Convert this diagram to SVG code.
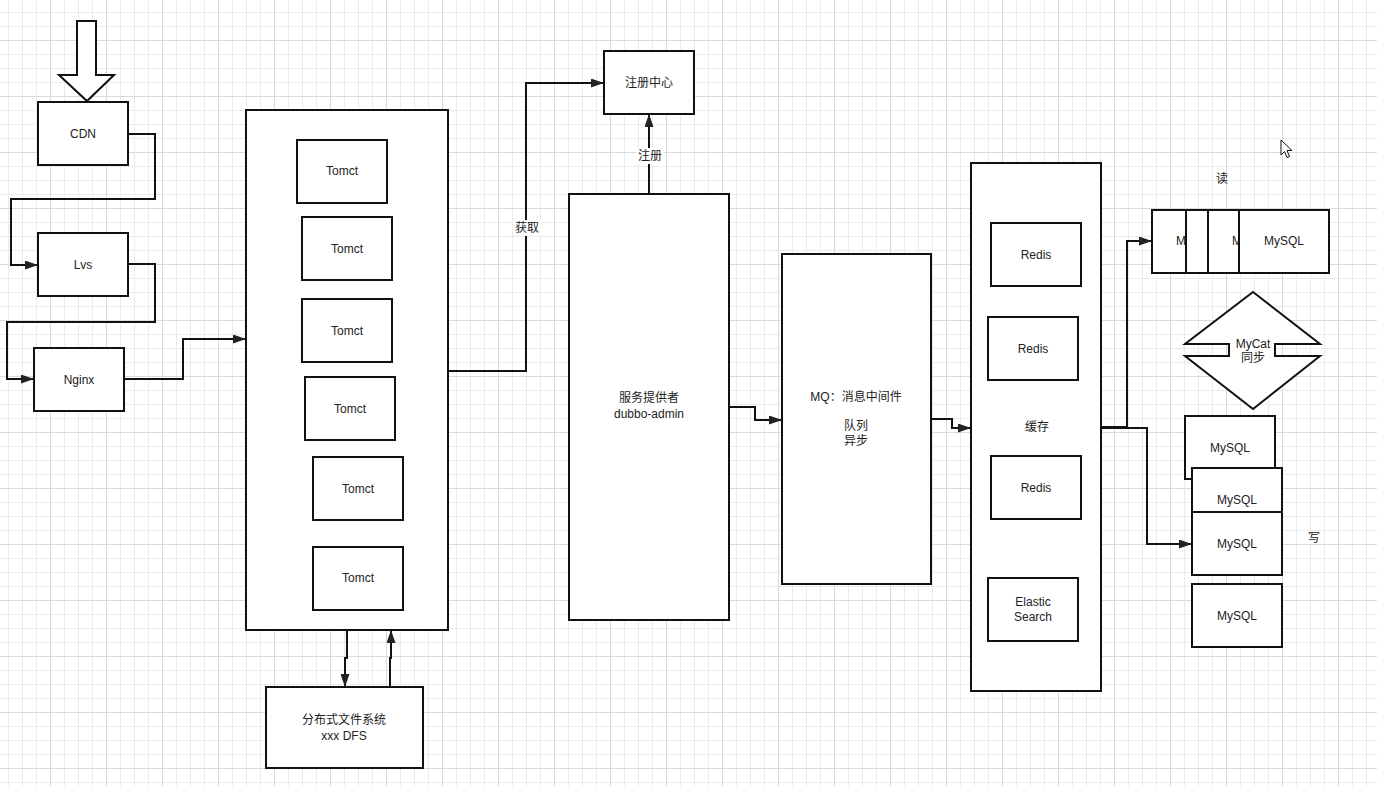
<svg xmlns="http://www.w3.org/2000/svg" width="1377" height="786" viewBox="0 0 1377 786">
<style>
.box{fill:#fff;stroke:#111;stroke-width:2}
.t{font-family:"Liberation Sans","Noto Sans CJK SC",sans-serif;font-size:12px;fill:#222;text-anchor:middle;dominant-baseline:central}
.s{text-anchor:start}
.c{fill:none;stroke:#111;stroke-width:2}
.lbl{fill:#fff}
</style>
<defs>
<pattern id="minor" width="14" height="14" x="8" y="12" patternUnits="userSpaceOnUse">
<rect width="14" height="1" fill="#ebebeb"/><rect width="1" height="14" fill="#ebebeb"/>
</pattern>
<pattern id="major" width="56" height="56" x="50" y="40" patternUnits="userSpaceOnUse">
<rect width="56" height="1" fill="#dadada"/><rect width="1" height="56" fill="#dadada"/>
</pattern>
<marker id="arr" markerWidth="13" markerHeight="9" refX="13" refY="4.5" orient="auto" markerUnits="userSpaceOnUse">
<path d="M0 0L13 4.5L0 9Z" fill="#222"/>
</marker>
</defs>
<rect width="1377" height="786" fill="#fff"/>
<rect width="1377" height="786" fill="url(#minor)"/>
<rect width="1377" height="786" fill="url(#major)"/>

<g id="entry-arrow">
<polygon class="box" points="77,21 96,21 96,75 114,75 87,101 59,75 77,75"/>
</g>

<g id="connectors">
<path class="c" d="M128 134H155V199H11V265H38" marker-end="url(#arr)"/>
<path class="c" d="M128 264H155V322H7V379H34" marker-end="url(#arr)"/>
<path class="c" d="M124 379H183V339H246" marker-end="url(#arr)"/>
<path class="c" d="M448 371H526V83H604" marker-end="url(#arr)"/>
<path class="c" d="M347 630V658H345V687" marker-end="url(#arr)"/>
<path class="c" d="M390 687V658H391V630" marker-end="url(#arr)"/>
<path class="c" d="M649 194V114" marker-end="url(#arr)"/>
<path class="c" d="M729 407H755V420H782" marker-end="url(#arr)"/>
<path class="c" d="M931 419H952V428H971" marker-end="url(#arr)"/>
<path class="c" d="M1101 427H1127V241H1152" marker-end="url(#arr)"/>
<path class="c" d="M1101 428H1147V544H1192" marker-end="url(#arr)"/>
<rect class="lbl" x="513" y="220" width="28" height="16"/>
<text class="t" x="527" y="228">获取</text>
<rect class="lbl" x="636" y="148" width="28" height="16"/>
<text class="t" x="650" y="156">注册</text>
</g>

<g id="cdn"><rect class="box" x="38" y="102" width="90" height="63"/><text class="t" x="83" y="134">CDN</text></g>
<g id="lvs"><rect class="box" x="38" y="233" width="90" height="63"/><text class="t" x="83" y="265">Lvs</text></g>
<g id="nginx"><rect class="box" x="34" y="348" width="90" height="63"/><text class="t" x="79" y="380">Nginx</text></g>

<g id="tomcat-cluster">
<rect class="box" x="246" y="110" width="202" height="520"/>
<g id="tomcat1"><rect class="box" x="297" y="140" width="90" height="63"/><text class="t" x="342" y="171">Tomct</text></g>
<g id="tomcat2"><rect class="box" x="302" y="217" width="90" height="63"/><text class="t" x="347" y="249">Tomct</text></g>
<g id="tomcat3"><rect class="box" x="302" y="299" width="90" height="63"/><text class="t" x="347" y="331">Tomct</text></g>
<g id="tomcat4"><rect class="box" x="305" y="377" width="90" height="63"/><text class="t" x="350" y="409">Tomct</text></g>
<g id="tomcat5"><rect class="box" x="313" y="457" width="90" height="63"/><text class="t" x="358" y="489">Tomct</text></g>
<g id="tomcat6"><rect class="box" x="313" y="547" width="90" height="63"/><text class="t" x="358" y="578">Tomct</text></g>
</g>

<g id="dfs"><rect class="box" x="266" y="687" width="157" height="81"/><text class="t" x="344" y="720">分布式文件系统</text><text class="t" x="344" y="736">xxx DFS</text></g>

<g id="registry"><rect class="box" x="604" y="51" width="90" height="63"/><text class="t" x="649" y="83">注册中心</text></g>

<g id="provider"><rect class="box" x="569" y="194" width="160" height="426"/><text class="t" x="649" y="398">服务提供者</text><text class="t" x="649" y="414">dubbo-admin</text></g>

<g id="mq"><rect class="box" x="782" y="254" width="149" height="330"/><text class="t" x="856" y="397">MQ：消息中间件</text><text class="t" x="856" y="426">队列</text><text class="t" x="856" y="441">异步</text></g>

<g id="cache">
<rect class="box" x="971" y="163" width="130" height="528"/>
<text class="t" x="1037" y="427">缓存</text>
<g id="redis1"><rect class="box" x="991" y="223" width="90" height="63"/><text class="t" x="1036" y="255">Redis</text></g>
<g id="redis2"><rect class="box" x="988" y="317" width="90" height="63"/><text class="t" x="1033" y="349">Redis</text></g>
<g id="redis3"><rect class="box" x="991" y="456" width="90" height="63"/><text class="t" x="1036" y="488">Redis</text></g>
<g id="es"><rect class="box" x="988" y="578" width="90" height="63"/><text class="t" x="1033" y="602">Elastic</text><text class="t" x="1033" y="617">Search</text></g>
</g>

<g id="read-label"><text class="t" x="1222" y="179">读</text></g>
<g id="read-mysql">
<g id="rm1"><rect class="box" x="1152" y="210" width="90" height="63"/><text class="t s" x="1176" y="241">M</text></g>
<g id="rm2"><rect class="box" x="1186" y="210" width="90" height="63"/></g>
<g id="rm3"><rect class="box" x="1208" y="210" width="90" height="63"/><text class="t s" x="1232" y="241">M</text></g>
<g id="rm4"><rect class="box" x="1239" y="210" width="90" height="63"/><text class="t" x="1284" y="241">MySQL</text></g>
</g>

<g id="mycat">
<polygon class="box" points="1253,292 1320,344 1275,344 1275,356 1320,356 1253,409 1185,356 1229,356 1229,344 1185,344"/>
<text class="t" x="1253" y="344">MyCat</text><text class="t" x="1253" y="358">同步</text>
</g>

<g id="write-mysql">
<g id="wm1"><rect class="box" x="1185" y="416" width="90" height="63"/><text class="t" x="1230" y="448">MySQL</text></g>
<g id="wm2"><rect class="box" x="1192" y="468" width="90" height="63"/><text class="t" x="1237" y="500">MySQL</text></g>
<g id="wm3"><rect class="box" x="1192" y="512" width="90" height="63"/><text class="t" x="1237" y="544">MySQL</text></g>
<g id="wm4"><rect class="box" x="1192" y="584" width="90" height="63"/><text class="t" x="1237" y="616">MySQL</text></g>
</g>
<g id="write-label"><text class="t" x="1314" y="538">写</text></g>

<g id="cursor">
<path d="M1281 140L1281 155L1284.5 151.5L1287 157.5L1289.5 156.5L1287 150.5L1292 150.5Z" fill="#fff" stroke="#111" stroke-width="1"/>
</g>
</svg>
